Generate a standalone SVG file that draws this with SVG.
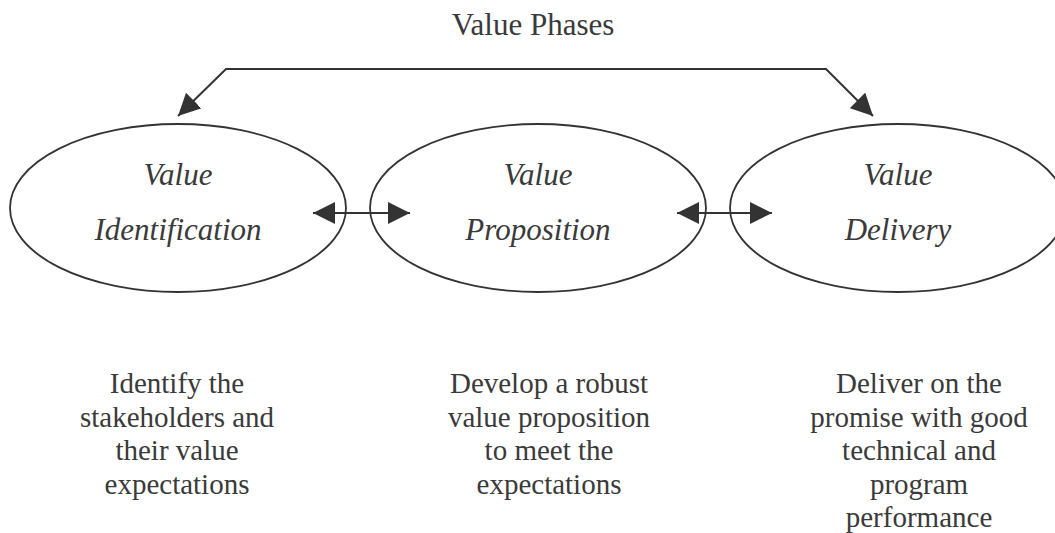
<svg xmlns="http://www.w3.org/2000/svg" width="1055" height="533" viewBox="0 0 1055 533">
<style>
.node ellipse{fill:#fff;stroke:#333;stroke-width:1.8}
.lbl{font-family:"Liberation Serif",serif;font-style:italic;font-size:31px;fill:#3a3a3a;text-anchor:middle}
.desc{font-family:"Liberation Serif",serif;font-size:29px;fill:#3a3a3a;text-anchor:middle}
.title{font-family:"Liberation Serif",serif;font-size:31px;fill:#3a3a3a;text-anchor:middle}
.conn{fill:none;stroke:#333;stroke-width:2}
</style>
<defs>
<marker id="ah" markerUnits="userSpaceOnUse" markerWidth="22" markerHeight="22" refX="20" refY="10" orient="auto-start-reverse" viewBox="0 0 20 20">
<path d="M0,0 L20,10 L0,20 z" fill="#333"/>
</marker>
</defs>
<rect width="1055" height="533" fill="#fff"/>
<text class="title" x="533" y="35">Value Phases</text>
<g id="n1" class="node">
<ellipse cx="178" cy="208" rx="168" ry="84"/>
<text class="lbl" x="178" y="185">Value</text>
<text class="lbl" x="178" y="240">Identification</text>
</g>
<g id="n2" class="node">
<ellipse cx="538" cy="208" rx="168" ry="84"/>
<text class="lbl" x="538" y="185">Value</text>
<text class="lbl" x="538" y="240">Proposition</text>
</g>
<g id="n3" class="node">
<ellipse cx="898" cy="208" rx="168" ry="84"/>
<text class="lbl" x="898" y="185">Value</text>
<text class="lbl" x="898" y="240">Delivery</text>
</g>
<g id="connectors">
<path class="conn" d="M178,116 L226,69 L826,69 L873,116" marker-start="url(#ah)" marker-end="url(#ah)"/>
<path class="conn" d="M313,213 L410,213" marker-start="url(#ah)" marker-end="url(#ah)"/>
<path class="conn" d="M677,213 L772,213" marker-start="url(#ah)" marker-end="url(#ah)"/>
</g>
<g id="d1">
<text class="desc" x="177" y="393">Identify the</text>
<text class="desc" x="177" y="427">stakeholders and</text>
<text class="desc" x="177" y="460">their value</text>
<text class="desc" x="177" y="494">expectations</text>
</g>
<g id="d2">
<text class="desc" x="549" y="393">Develop a robust</text>
<text class="desc" x="549" y="427">value proposition</text>
<text class="desc" x="549" y="460">to meet the</text>
<text class="desc" x="549" y="494">expectations</text>
</g>
<g id="d3">
<text class="desc" x="919" y="393">Deliver on the</text>
<text class="desc" x="919" y="427">promise with good</text>
<text class="desc" x="919" y="460">technical and</text>
<text class="desc" x="919" y="494">program</text>
<text class="desc" x="919" y="527">performance</text>
</g>
</svg>
